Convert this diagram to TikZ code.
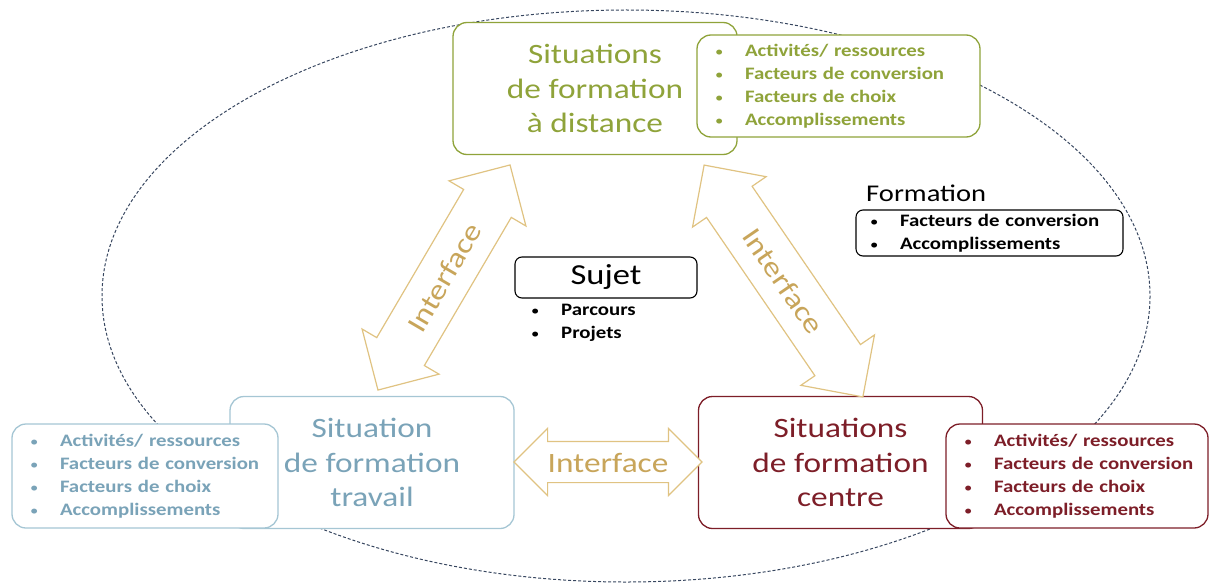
\documentclass[tikz,border=0pt]{standalone}
\usepackage{fontspec}
\setmainfont{Carlito}[FakeStretch=1.19]
\usetikzlibrary{shapes.arrows}

\definecolor{vertC}{RGB}{143,163,58}
\definecolor{bleuC}{RGB}{122,163,184}
\definecolor{bleuB}{RGB}{165,198,212}
\definecolor{rougeC}{RGB}{125,30,40}
\definecolor{orC}{RGB}{200,165,90}
\definecolor{orB}{RGB}{224,195,130}
\definecolor{ellC}{RGB}{55,70,95}

\newcommand{\titre}{\fontsize{28}{34.5}\selectfont}
\newcommand{\liste}{\fontsize{17.5}{23}\selectfont\bfseries}
\newcommand{\puce}{{\mdseries\fontsize{14}{14}\selectfont •}}
\newcommand{\puces}[1]{\begin{tabular}{@{}p{30pt}@{}l@{}}#1\end{tabular}}
\newcommand{\quatre}{%
  \puce & Activités/ ressources\\
  \puce & Facteurs de conversion\\
  \puce & Facteurs de choix\\
  \puce & Accomplissements}

\tikzset{
  cadre/.style={draw, fill=white, rounded corners=14pt, line width=1.3pt},
  situation/.style={cadre, minimum width=284pt, minimum height=132pt,
    align=center, font=\titre},
  listebox/.style={cadre, font=\liste, inner xsep=18pt, inner ysep=0pt,
    align=left},
  interface/.style={double arrow, draw=orB, fill=white, text=orC,
    line width=1.2pt, font=\fontsize{28}{28}\selectfont,
    text height=20pt, text depth=0pt, inner xsep=0pt, inner ysep=17pt,
    double arrow head extend=17pt}
}

\begin{document}
\begin{tikzpicture}[x=1pt, y=-1pt]
  \useasboundingbox (0,0) rectangle (1209,583);

  % Ellipse
  \draw[ellC, line width=1pt, dash pattern=on 3pt off 2pt]
    (626,296) ellipse [x radius=524, y radius=286];

  % Situations
  \node[situation, draw=vertC, text=vertC] (distance) at (595,88.5)
    {Situations\\de formation\\à distance};
  \node[situation, draw=bleuB, text=bleuC] (travail) at (372,462.5)
    {Situation\\de formation\\travail};
  \node[situation, draw=rougeC, text=rougeC] (centre) at (840.5,462.5)
    {Situations\\de formation\\centre};

  % Listes
  \node[listebox, draw=vertC, text=vertC, text width=247pt,
    minimum height=102pt] (distanceL) at (838.5,86) {\puces{\quatre}};
  \node[listebox, draw=bleuB, text=bleuC, text width=230pt,
    minimum height=104pt] (travailL) at (145,476) {\puces{\quatre}};
  \node[listebox, draw=rougeC, text=rougeC, text width=226pt,
    minimum height=104pt] (centreL) at (1077,476) {\puces{\quatre}};

  % Sujet
  \node[cadre, line width=1.1pt, rounded corners=7pt, minimum width=182pt,
    minimum height=41pt, inner sep=0pt, font=\fontsize{29}{29}\selectfont]
    (sujet) at (606,277.5) {Sujet};
  \node[anchor=west, inner sep=0pt, font=\liste] (sujetL) at (531,322.5)
    {\puces{\puce & Parcours\\ \puce & Projets}};

  % Formation
  \node[anchor=west, inner sep=0pt, font=\fontsize{24}{24}\selectfont]
    (formation) at (866,193) {Formation};
  \node[listebox, line width=1.1pt, rounded corners=7pt, inner xsep=14pt,
    text width=239pt, minimum height=46pt] (formationL) at (989.5,233)
    {\puces{\puce & Facteurs de conversion\\ \puce & Accomplissements}};

  % Interfaces
  \node[interface, rotate=59.6, minimum height=261pt] (ifTravail)
    at (444,277.5) {Interface};
  \node[interface, rotate=-55.6, minimum height=281pt] (ifCentre)
    at (783.5,281) {Interface};
  \node[interface, inner ysep=10pt, double arrow head extend=13pt,
    minimum height=188pt] (ifBas) at (608,462) {Interface};
\end{tikzpicture}
\end{document}
